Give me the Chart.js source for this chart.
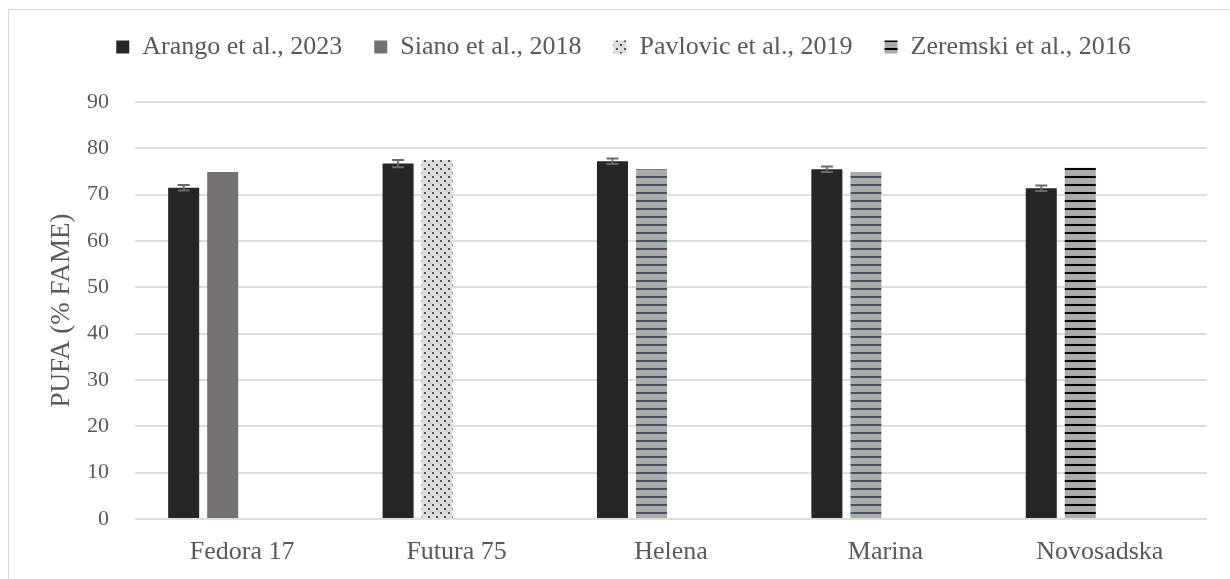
<!DOCTYPE html>
<html>
<head>
<meta charset="utf-8">
<script src="https://cdn.jsdelivr.net/npm/chart.js@4.4.0/dist/chart.umd.min.js"></script>
<style>
  body { margin: 0; background: #fff; overflow: hidden; }
  #frame { position: absolute; left: 8px; top: 9px; width: 1300px; height: 700px; border: 1px solid #d9d9d9; }
  #wrap { position: absolute; left: 0; top: 0; width: 1230px; height: 579px; }
</style>
</head>
<body>
<div id="frame"></div>
<div id="wrap"><canvas id="chart" width="1230" height="579"></canvas></div>
<script>
// values
const categories = ['Fedora 17', 'Futura 75', 'Helena', 'Marina', 'Novosadska'];
const arango    = [71.5, 76.7, 77.2, 75.5, 71.4];
const arangoErr = [0.6, 0.8, 0.6, 0.6, 0.6];
const siano     = [74.9, null, null, null, null];
const pavlovic  = [null, 77.5, null, null, null];
const zeremski  = [null, null, 75.5, 74.9, 75.8];
const yTicks    = { min: 0, max: 90, step: 10 };

const textColor = '#595959';
const serif = "'Liberation Serif', 'Times New Roman', serif";

// fill patterns like the Excel ones
function makePattern(w, h, draw) {
  const c = document.createElement('canvas');
  c.width = w; c.height = h;
  const g = c.getContext('2d');
  draw(g);
  return g.createPattern(c, 'repeat');
}
const dots = makePattern(8, 8, g => {
  g.fillStyle = '#dcdcdc'; g.fillRect(0, 0, 8, 8);
  g.fillStyle = '#44546a';
  g.fillRect(0, 0, 2, 2);
  g.fillRect(4, 4, 2, 2);
});
const blueStripes = makePattern(8, 8, g => {
  g.fillStyle = '#aeaaaa'; g.fillRect(0, 0, 8, 8);
  g.fillStyle = '#44546a'; g.fillRect(0, 0, 8, 2);
});
const blackStripes = makePattern(8, 8, g => {
  g.fillStyle = '#aeaaaa'; g.fillRect(0, 0, 8, 8);
  g.fillStyle = '#000000'; g.fillRect(0, 0, 8, 2);
});

// error bars on the first dataset
const errorBars = {
  id: 'errorBars',
  afterDatasetsDraw(chart) {
    const ctx = chart.ctx;
    const y = chart.scales.y;
    const meta = chart.getDatasetMeta(0);
    ctx.save();
    ctx.strokeStyle = '#6a6a6a';
    ctx.lineWidth = 2;
    meta.data.forEach((bar, i) => {
      const v = arango[i], e = arangoErr[i];
      if (v == null) return;
      const top = y.getPixelForValue(v + e);
      const bot = y.getPixelForValue(v - e);
      ctx.beginPath();
      ctx.moveTo(bar.x, top); ctx.lineTo(bar.x, bot);
      ctx.moveTo(bar.x - 6, top); ctx.lineTo(bar.x + 6, top);
      ctx.moveTo(bar.x - 6, bot); ctx.lineTo(bar.x + 6, bot);
      ctx.stroke();
    });
    ctx.restore();
  }
};

const none = categories.map(() => null);

new Chart(document.getElementById('chart'), {
  type: 'bar',
  data: {
    labels: categories,
    datasets: [
      { label: 'Arango et al., 2023', data: arango, stack: 'a', backgroundColor: '#262626' },
      { label: 'Siano et al., 2018', data: siano, stack: 'b', backgroundColor: '#767171' },
      { label: 'Pavlovic et al., 2019', data: pavlovic, stack: 'b', backgroundColor: dots },
      { label: 'Zeremski et al., 2016', data: zeremski, stack: 'b',
        backgroundColor: [blackStripes, blackStripes, blueStripes, blueStripes, blackStripes] },
      // empty slots so bars sit on the left of each category, as in Excel
      { label: '', data: none, stack: 'c' },
      { label: '', data: none, stack: 'd' }
    ]
  },
  options: {
    responsive: false,
    animation: false,
    categoryPercentage: 0.728,
    barPercentage: 0.795,
    borderWidth: 0,
    layout: { padding: { left: 40, right: 23, top: 2, bottom: 11 } },
    plugins: {
      tooltip: { enabled: false },
      legend: {
        position: 'top',
        labels: {
          boxWidth: 13,
          boxHeight: 13,
          padding: 32,
          color: textColor,
          font: { family: serif, size: 26 },
          filter: item => item.text !== ''
        }
      },
      // empty title used as a gap between legend and plot
      title: { display: true, text: '', weight: 0, font: { size: 10 }, padding: { top: 0, bottom: 20 } }
    },
    scales: {
      x: {
        afterFit: s => { s.height = 49; },
        grid: { display: false, drawTicks: false },
        border: { display: false },
        ticks: { color: textColor, padding: 18, font: { family: serif, size: 26 } }
      },
      y: {
        min: yTicks.min,
        max: yTicks.max,
        afterFit: s => { s.width = 95; },
        grid: { color: '#dedede', lineWidth: 2, drawTicks: false },
        border: { display: false },
        ticks: { stepSize: yTicks.step, color: textColor, padding: 26, font: { family: serif, size: 22 } },
        title: {
          display: true,
          text: 'PUFA (% FAME)',
          color: textColor,
          padding: { top: 6, bottom: 0 },
          font: { family: serif, size: 27 }
        }
      }
    }
  },
  plugins: [errorBars]
});
</script>
</body>
</html>
